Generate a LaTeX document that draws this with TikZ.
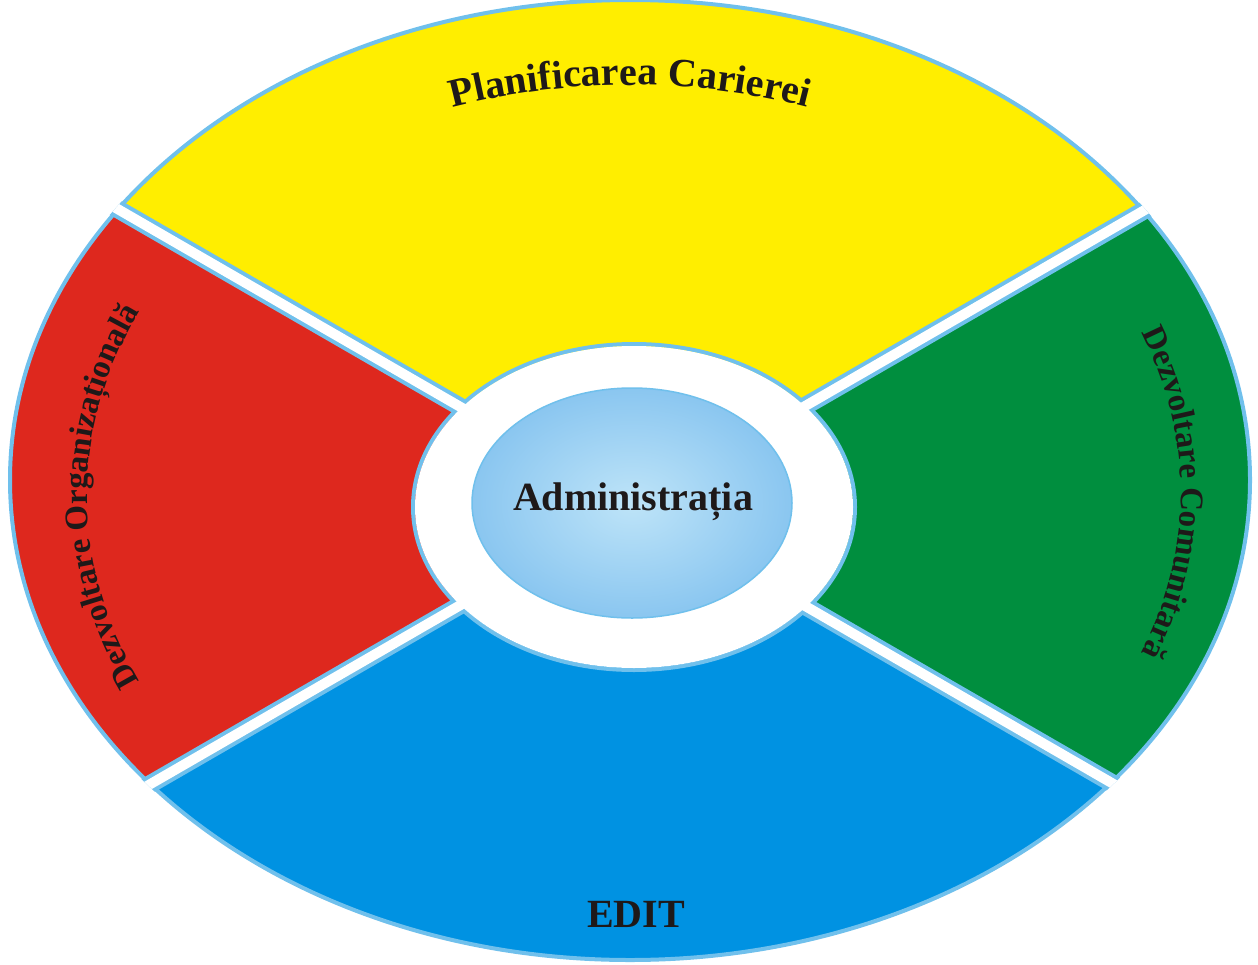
\documentclass[tikz,border=0pt]{standalone}
\usepackage{fontspec}
\setmainfont{Liberation Serif}
\usetikzlibrary{shapes.geometric,decorations.text}
\definecolor{secyellow}{RGB}{255,238,0}
\definecolor{secred}{RGB}{222,40,30}
\definecolor{secgreen}{RGB}{0,142,62}
\definecolor{secblue}{RGB}{0,146,226}
\definecolor{edgeblue}{RGB}{112,192,236}
\definecolor{hubouter}{RGB}{138,198,240}
\definecolor{hubinner}{RGB}{190,228,248}
\definecolor{inkdark}{RGB}{30,25,25}
\tikzset{
  outline/.style={draw=edgeblue, line width=4pt},
  gapedge/.style={draw=edgeblue, line width=18pt},
  gapcore/.style={draw=white, line width=10pt},
  hub/.style={ellipse, minimum width=320pt, minimum height=230pt, inner sep=0pt,
    inner color=hubinner, outer color=hubouter, draw=edgeblue, line width=1.5pt},
  bigtext/.style={font=\fontsize{40pt}{40pt}\selectfont\bfseries, text=inkdark, inner sep=0pt}
}
\begin{document}
\begin{tikzpicture}[x=1pt,y=1pt]
\useasboundingbox (0,0) rectangle (1258,-964);
\coordinate (oc) at (630,-480);
\coordinate (gc) at (632,-506);
\coordinate (ic) at (634,-507);
% sectors
\begin{scope}
  \clip (oc) ellipse [x radius=620pt, y radius=480pt];
  \fill[secred] (oc) ellipse [x radius=620pt, y radius=480pt];
  \fill[secyellow] (gc) -- ([shift={(gc)}]30:1500pt) -- ([shift={(gc)}]90:1500pt) -- ([shift={(gc)}]150:1500pt) -- cycle;
  \fill[secgreen] (gc) -- ([shift={(gc)}]-30:1500pt) -- ([shift={(gc)}]0:1500pt) -- ([shift={(gc)}]30:1500pt) -- cycle;
  \fill[secblue] (gc) -- ([shift={(gc)}]210:1500pt) -- ([shift={(gc)}]270:1500pt) -- ([shift={(gc)}]330:1500pt) -- cycle;
\end{scope}
\path[outline] (oc) ellipse [x radius=620pt, y radius=480pt];
\path[outline] (ic) ellipse [x radius=221pt, y radius=163pt];
% gaps
\begin{scope}
  \clip (oc) ellipse [x radius=622.5pt, y radius=482.5pt];
  \foreach \a in {30,150,210,330} {
    \path[gapedge] (gc) -- ([shift={(gc)}]\a:900pt);
  }
  \foreach \a in {30,150,210,330} {
    \path[gapcore] (gc) -- ([shift={(gc)}]\a:900pt);
  }
\end{scope}
\fill[white] (ic) ellipse [x radius=219pt, y radius=161pt];
% hub
\node[hub] (admin) at (632,-503) {};
\node[bigtext, anchor=base] (admintext) at (633,-510) {Administrația};
% bottom label
\node[bigtext, anchor=base] (edit) at (636,-927) {EDIT};
% curved labels
\path[decorate, decoration={text along path, text align=center,
  text={|\fontsize{40pt}{40pt}\selectfont\bfseries\color{inkdark}|Planificarea Carierei}}]
  ([shift={(oc)}]120:535pt and 395pt) arc [start angle=120, end angle=60, x radius=535pt, y radius=395pt];
\path[decorate, decoration={text along path, text align=center,
  text={|\fontsize{33pt}{33pt}\selectfont\bfseries\color{inkdark}|Dezvoltare Organizațională}}]
  ([shift={(632,-496)}]215:545pt and 430pt) arc [start angle=215, end angle=145, x radius=545pt, y radius=430pt];
\path[decorate, decoration={text along path, text align=center,
  text={|\fontsize{33pt}{33pt}\selectfont\bfseries\color{inkdark}|Dezvoltare Comunitară}}]
  ([shift={(630,-493)}]35:551pt and 430pt) arc [start angle=35, end angle=-35, x radius=551pt, y radius=430pt];
\end{tikzpicture}
\end{document}
